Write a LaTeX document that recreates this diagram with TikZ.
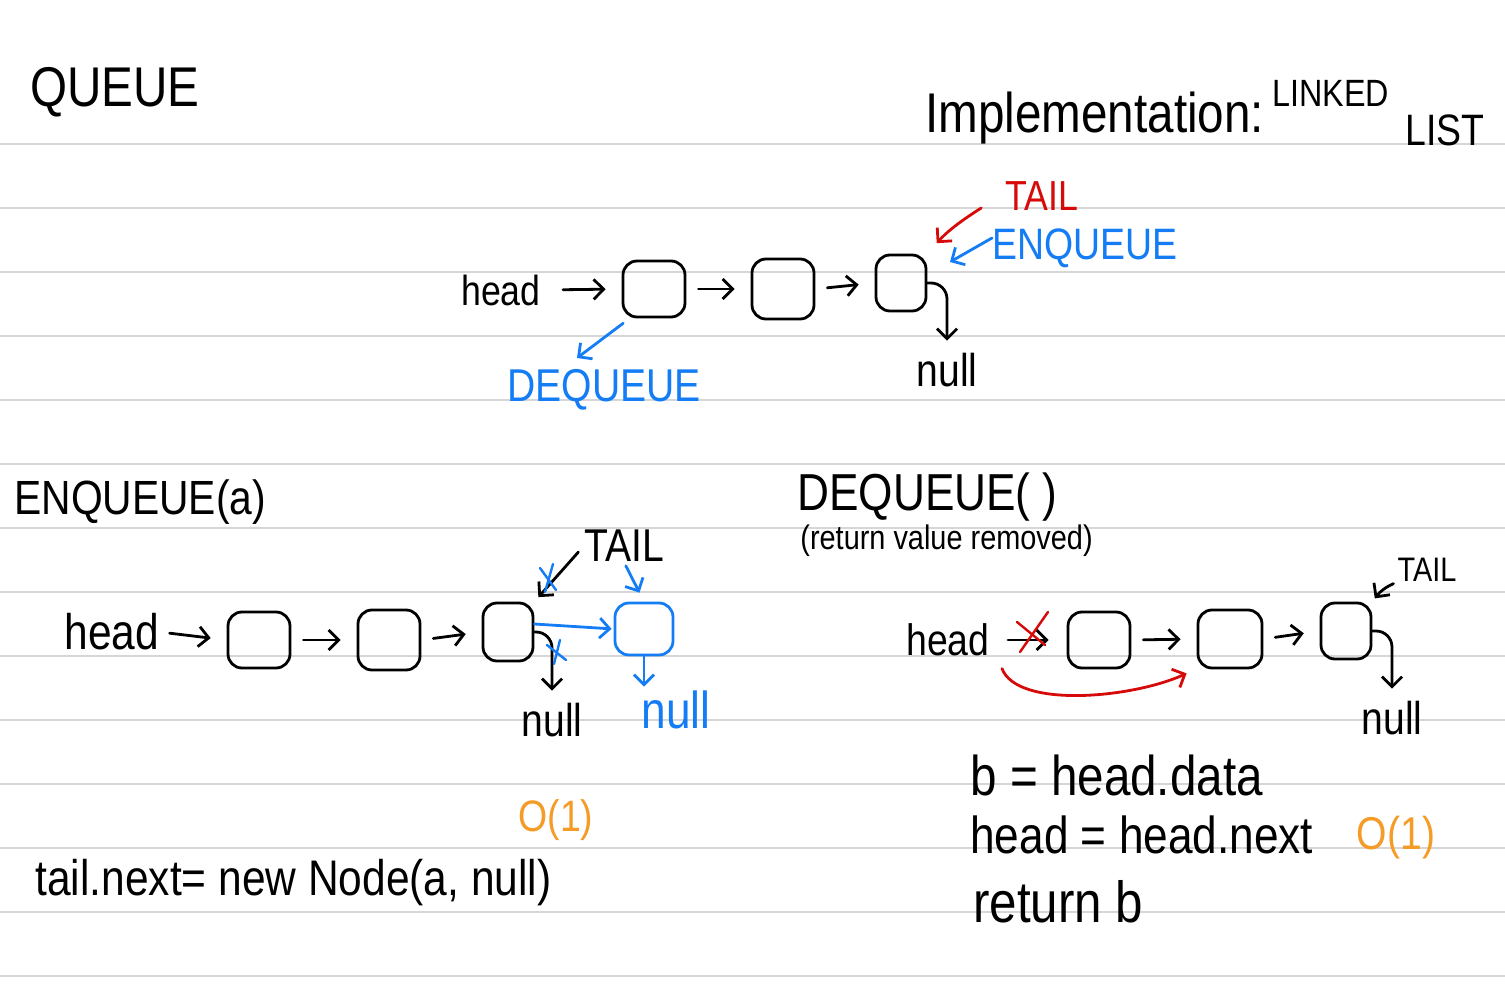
\documentclass[tikz,border=0pt]{standalone}
\usepackage{fontspec}
\setmainfont[FakeStretch=0.85]{Liberation Sans}
\definecolor{inkblue}{RGB}{20, 125, 245}
\definecolor{inkred}{RGB}{215, 10, 10}
\definecolor{inkorange}{RGB}{245, 155, 40}
\definecolor{ruleg}{RGB}{214, 214, 214}
\usetikzlibrary{arrows.meta, positioning, calc}
\tikzset{
	ruling/.style={draw=ruleg, line width=1pt},
	pen/.style={line width=1.4pt, line cap=round, line join=round},
	cell/.style={rectangle, rounded corners=7pt, draw, pen, minimum width=31pt, minimum height=28pt, inner sep=0pt},
	lastcell/.style={cell, minimum width=25pt},
	txt/.style={inner sep=0pt, font=\fontsize{#1}{#1}\selectfont},
	arrow/.style={pen, -{Straight Barb[length=5pt, width=10pt]}},
	link/.style={arrow, shorten <=6pt, shorten >=8pt},
	bluearrow/.style={arrow, draw=inkblue},
	redarrow/.style={arrow, draw=inkred},
	strike/.style={pen, line width=1.2pt},
}

\begin{document}
\begin{tikzpicture}[x=0.5pt, y=-0.5pt]
	\fill[white] (0,0) rectangle (1505,1000);
	\useasboundingbox (0,0) rectangle (1505,1000);
	% ruled paper
	\foreach \ry in {144,208,...,976}
		\draw[ruling] (0,\ry) -- (1505,\ry);

	% titles
	\node[txt=28, anchor=west] (ttitle) at (30,92) {QUEUE};
	\node[txt=28, anchor=base west] (timpl) at (925,133) {Implementation:};
	\node[txt=19, anchor=west] (tlinked) at (1272,93) {LINKED};
	\node[txt=22, anchor=west] (tlist) at (1405,130) {LIST};

	% linked list overview
	\node[txt=21] (qhead) at (501,290) {head};
	\node[cell] (q1) at (654,289) {};
	\node[cell, minimum height=30pt] (q2) at (783,289) {};
	\node[lastcell] (q3) at (901,283) {};
	\node[txt=23] (qnull) at (947,370) {null};
	\node[txt=21, text=inkred] (qtail) at (1042,196) {TAIL};
	\node[txt=22, text=inkblue, anchor=west] (qenq) at (992,248) {ENQUEUE};
	\node[txt=23, text=inkblue] (qdeq) at (604,390) {DEQUEUE};
	\coordinate (enqtip) at (950,262);
	\coordinate (deqtip) at (577,358);
	\draw[arrow, shorten <=11pt, shorten >=8pt] (qhead.east) -- (q1.west);
	\draw[link] (q1.east) -- (q2.west);
	\draw[link] (q2.east) -- (q3.west);
	\draw[arrow, rounded corners=8pt, shorten >=6pt] (q3.east) -| (qnull.north);
	\draw[redarrow, shorten >=7pt] ([xshift=-12pt,yshift=-6pt]qtail.west) to[bend right=8] (q3.north east);
	\draw[bluearrow] ([yshift=5pt]qenq.west) -- (enqtip);
	\draw[bluearrow, shorten <=4pt] ([xshift=4pt]q1.south west) -- (deqtip);

	% enqueue
	\node[txt=24, anchor=west] (tenq) at (14,502) {ENQUEUE(a)};
	\node[txt=25] (ehead) at (112,632) {head};
	\node[cell] (e1) at (259,640) {};
	\node[cell, minimum height=30pt] (e2) at (389,640) {};
	\node[lastcell, minimum height=29pt] (e3) at (508,632) {};
	\node[cell, draw=inkblue, minimum width=29pt, minimum height=26pt] (en) at (644,629) {};
	\node[txt=23] (etail) at (624,546) {TAIL};
	\node[txt=23] (enull) at (552,720) {null};
	\node[txt=26, text=inkblue] (enull2) at (676,710) {null};
	\node[txt=22, text=inkorange] (ebig) at (556,820) {O(1)};
	\node[txt=25, anchor=west] (ecode) at (35,883) {tail.next= new Node(a, null)};
	\draw[arrow, shorten <=5pt, shorten >=8pt] (ehead.east) -- (e1.west);
	\draw[link] (e1.east) -- (e2.west);
	\draw[link] (e2.east) -- (e3.west);
	\draw[arrow, rounded corners=8pt, shorten >=6pt] (e3.east) -| (enull.north);
	\draw[arrow, shorten <=4pt, shorten >=3pt] (etail.west) -- (e3.north east);
	\draw[bluearrow, shorten >=1pt] ([yshift=4pt]e3.east) -- (en.west);
	\draw[bluearrow, shorten <=2pt, shorten >=5pt] (etail.south) -- (en.north);
	\draw[bluearrow, shorten >=2pt] (en.south) -- (en.south |- enull2.north);
	\draw[strike, inkblue] (540,568) -- (556,590) (553,564) -- (545,592);
	\draw[strike, inkblue] (547,645) -- (566,660) (560,640) -- (554,664);

	% dequeue
	\node[txt=26, anchor=west] (tdeq) at (797,497) {DEQUEUE( )};
	\node[txt=17, anchor=west] (tret) at (800,541) {(return value removed)};
	\node[txt=22] (dhead) at (948,640) {head};
	\node[cell] (d1) at (1099,640) {};
	\node[cell, minimum width=32pt, minimum height=29pt] (d2) at (1230,639) {};
	\node[lastcell] (d3) at (1346,631) {};
	\node[txt=17] (dtail) at (1427,570) {TAIL};
	\node[txt=23] (dnull) at (1392,718) {null};
	\draw[arrow, shorten <=9pt, shorten >=9pt] (dhead.east) -- (d1.west);
	\draw[link] (d1.east) -- (d2.west);
	\draw[link] (d2.east) -- (d3.west);
	\draw[arrow, rounded corners=8pt, shorten >=6pt] (d3.east) -| (dnull.north);
	\draw[arrow, shorten <=2pt, shorten >=2pt] (dtail.south west) to[bend right=15] (d3.north east);
	\draw[strike, inkred] (1020,652) -- (1048,612) (1017,622) -- (1045,645);
	\draw[redarrow] ([shift={(6pt,-6pt)}]dhead.south east) .. controls +(15,40) and +(-55,25) .. ([xshift=-5pt,yshift=-2pt]d2.south west);
	\node[txt=28, anchor=west] (dc1) at (970,775) {b = head.data};
	\node[txt=26, anchor=west] (dc2) at (970,835) {head = head.next};
	\node[txt=29, anchor=west] (dc3) at (973,902) {return b};
	\node[txt=23, text=inkorange] (dbig) at (1396,838) {O(1)};
\end{tikzpicture}
\end{document}
